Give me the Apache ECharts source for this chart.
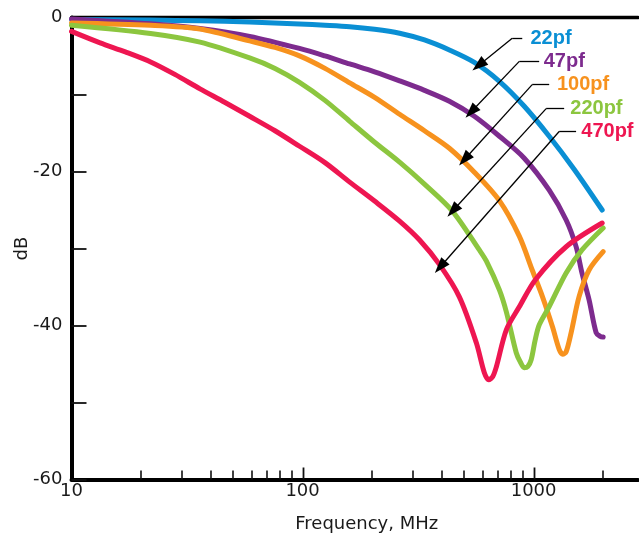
<!DOCTYPE html>
<html><head><meta charset="utf-8">
<script src="https://cdn.jsdelivr.net/npm/echarts@6/dist/echarts.min.js"></script>
<style>html,body{margin:0;padding:0;background:#fff}#c{width:639px;height:538px}</style>
</head><body><div id="c"></div>
<script>
// ---- data (frequency in MHz, attenuation in dB) ----
const seriesNames = ['22pf', '47pf', '100pf', '220pf', '470pf'];
const seriesColors = ['#0a8fd4', '#7d2b8e', '#f7921e', '#8cc63f', '#ee1651'];

const freq22 = [10, 22, 36, 59, 97, 125, 160, 205, 263, 337, 432, 554, 711, 911, 1168, 1497, 1980];
const db22   = [-0.26, -0.34, -0.43, -0.58, -0.84, -1.0, -1.19, -1.53, -2.05, -2.92, -4.22, -5.83, -8.29, -11.53, -15.42, -19.7, -25.0];

const freq47 = [10, 22, 36, 59, 97, 125, 160, 205, 263, 337, 432, 554, 711, 911, 1168, 1383, 1527, 1620, 1738, 1865, 1942, 2000];
const db47   = [-0.19, -0.82, -1.43, -2.46, -4.02, -4.99, -6.03, -7.06, -8.23, -9.46, -10.88, -12.83, -15.42, -18.27, -22.42, -26.3, -29.76, -33.2, -36.67, -40.95, -41.4, -41.5];

const freq100 = [10, 22, 36, 59, 76, 97, 125, 160, 205, 263, 337, 432, 554, 711, 867, 986, 1092, 1206, 1290, 1336, 1383, 1453, 1573, 1738, 2000];
const db100   = [-0.7, -1.0, -1.49, -3.04, -3.89, -4.99, -6.61, -8.49, -10.37, -12.57, -14.71, -16.98, -20.09, -23.78, -28.39, -32.79, -36.25, -40.14, -43.1, -43.73, -43.41, -40.95, -36.25, -32.79, -30.41];

const freq220 = [10, 22, 36, 59, 76, 97, 125, 160, 205, 263, 337, 445, 582, 624, 711, 762, 841, 875, 911, 943, 976, 1016, 1058, 1168, 1383, 1620, 2000];
const db220   = [-1.0, -2.07, -3.2, -5.25, -6.61, -8.42, -10.76, -13.48, -16.2, -18.79, -21.64, -25.14, -30.19, -31.62, -35.38, -38.23, -43.54, -44.71, -45.48, -45.35, -44.45, -41.86, -39.91, -37.54, -33.17, -30.19, -27.34];

const freq470 = [10, 13.3, 17.1, 22, 28, 36, 46, 59, 76, 97, 125, 160, 205, 263, 321, 391, 477, 565, 612, 639, 665, 690, 762, 867, 1016, 1383, 1980];
const db470   = [-1.81, -3.3, -4.47, -5.77, -7.39, -9.27, -11.01, -12.83, -14.71, -16.72, -18.85, -21.38, -23.84, -26.44, -28.9, -32.07, -36.28, -42.24, -46.13, -47.04, -46.65, -45.35, -40.56, -37.58, -34.08, -29.77, -26.69];

// axis ticks / labels
const xMajorTicks = [10, 100, 1000];
const xMinorTicks = [20, 30, 40, 50, 60, 70, 80, 90, 200, 300, 400, 500, 600, 700, 800, 900, 2000];
const yLabelValues = [0, -20, -40, -60];

// annotation callouts (data units): label anchor, elbow, arrow tip
const calloutTextFreq  = [964, 1100, 1256, 1434, 1600];
const calloutLineStart = [893, 1057, 1168, 1356, 1527];
const calloutElbowFreq = [808, 867, 986, 1133, 1290];
const calloutLevelDb   = [-2.68, -5.70, -8.72, -11.83, -14.8];
const calloutTipFreq   = [578, 536, 502, 447, 394];
const calloutTipDb     = [-6.22, -12.27, -18.44, -25.1, -32.4];

// ---- build chart ----
const freqs = [freq22, freq47, freq100, freq220, freq470];
const dbs = [db22, db47, db100, db220, db470];
const XMIN = 10, XMAX = 2830, YMIN = -60, YMAX = 0;
const FONT = 'DejaVu Sans';
const MAJOR_TICK_LEN = 12;

const curveSeries = seriesNames.map((name, i) => ({
  name: name,
  type: 'line',
  data: freqs[i].map((f, j) => [f, dbs[i][j]]),
  showSymbol: false,
  smooth: 0.3,
  clip: false,
  lineStyle: { color: seriesColors[i], width: 5, cap: 'round', join: 'round' },
  itemStyle: { color: seriesColors[i] },
  animation: false,
  z: 3
}));

const arrowLines = [];
const labelPoints = [];
seriesNames.forEach((name, i) => {
  arrowLines.push([
    { coord: [calloutLineStart[i], calloutLevelDb[i]], symbol: 'none' },
    { coord: [calloutElbowFreq[i], calloutLevelDb[i]], symbol: 'none' }
  ]);
  arrowLines.push([
    { coord: [calloutElbowFreq[i], calloutLevelDb[i]], symbol: 'none' },
    { coord: [calloutTipFreq[i], calloutTipDb[i]], symbol: 'triangle', symbolSize: [11, 16] }
  ]);
  labelPoints.push({
    coord: [calloutTextFreq[i], calloutLevelDb[i]],
    symbol: 'rect', symbolSize: 1,
    itemStyle: { color: 'rgba(0,0,0,0)' },
    label: {
      show: true, position: 'right', distance: 0,
      formatter: name, color: seriesColors[i],
      fontFamily: 'Liberation Sans', fontWeight: 'bold', fontSize: 20
    }
  });
});

const annotationSeries = {
  name: 'callouts', type: 'line', data: [], silent: true, animation: false, z: 5,
  markLine: {
    silent: true, animation: false, symbol: 'none',
    lineStyle: { color: '#000', width: 1.3, type: 'solid' },
    itemStyle: { color: '#000' },
    label: { show: false },
    emphasis: { disabled: true },
    data: arrowLines
  },
  markPoint: {
    silent: true, animation: false,
    data: labelPoints
  }
};

const axisText = { fontFamily: FONT, fontSize: 18, color: '#1a1a1a' };
const logAxisBase = { type: 'log', logBase: 10, min: XMIN, max: XMAX, offset: 0, splitLine: { show: false } };

const option = {
  backgroundColor: '#fff',
  animation: false,
  grid: { left: 71.5, right: 1, top: 17.5, bottom: 58.5, containLabel: false, outerBoundsMode: 'none' },
  xAxis: [
    {
      ...logAxisBase, position: 'bottom',
      axisLine: { show: true, onZero: false, lineStyle: { color: '#000', width: 4 } },
      axisTick: { show: false },
      axisLabel: { show: true, customValues: xMajorTicks, margin: 3, formatter: v => String(Math.round(v)), ...axisText },
      name: 'Frequency, MHz', nameLocation: 'middle', nameGap: 36, nameMoveOverlap: false,
      nameTextStyle: { ...axisText, padding: [0, 0, 0, 24] }
    },
    {
      ...logAxisBase, position: 'bottom',
      axisLine: { show: false, onZero: false },
      axisTick: { show: true, inside: true, length: 9, customValues: xMinorTicks, lineStyle: { color: '#111', width: 1.6 } },
      axisLabel: { show: false }
    },
    {
      ...logAxisBase, position: 'top',
      axisLine: { show: true, onZero: false, lineStyle: { color: '#000', width: 3.4 } },
      axisTick: { show: false }, axisLabel: { show: false }
    }
  ],
  yAxis: {
    type: 'value', min: YMIN, max: YMAX, interval: 10,
    axisLine: { show: true, onZero: false, lineStyle: { color: '#000', width: 4 } },
    axisTick: { show: true, inside: true, length: 15, lineStyle: { color: '#111', width: 1.8 } },
    axisLabel: { show: true, customValues: yLabelValues, margin: 9, ...axisText },
    splitLine: { show: false },
    name: 'dB', nameLocation: 'middle', nameGap: 40, nameRotate: 90, nameMoveOverlap: false,
    nameTextStyle: axisText
  },
  series: [...curveSeries, annotationSeries]
};

const chart = echarts.init(document.getElementById('c'), null, { renderer: 'canvas' });
chart.setOption(option);

// longer decade ticks, placed through the axis scales, on their own top layer
const yBase = chart.convertToPixel({ yAxisIndex: 0 }, YMIN);
const decadeTicks = xMajorTicks.slice(1).map(v => {
  const px = Math.round(chart.convertToPixel({ xAxisIndex: 0 }, v)) + 0.5;
  return {
    type: 'rect', silent: true, zlevel: 2, z: 100,
    shape: { x: px - 0.9, y: yBase - MAJOR_TICK_LEN, width: 1.8, height: MAJOR_TICK_LEN },
    style: { fill: '#111' }
  };
});
chart.setOption({ graphic: { elements: decadeTicks } });
</script>
</body></html>
